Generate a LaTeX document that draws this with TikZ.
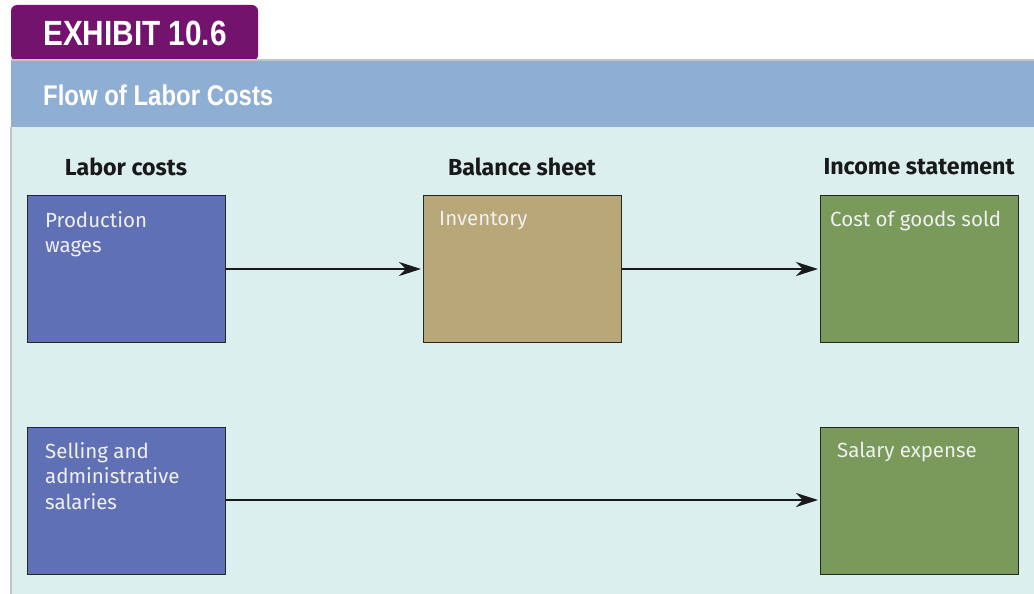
\documentclass[tikz,border=0pt]{standalone}
\usepackage{fontspec}
\setmainfont{Fira Sans}
\newfontfamily\headfont{Fira Sans}[UprightFont=* Bold]
\newfontfamily\condfont{Liberation Sans}[FakeStretch=0.85,BoldFont=* Bold]
\newfontfamily\titlefont{Liberation Sans}[FakeStretch=0.84,BoldFont=* Bold]
\usetikzlibrary{arrows.meta}
\definecolor{tabpurple}{HTML}{73136E}
\definecolor{hdrblue}{HTML}{8FAED4}
\definecolor{bodycyan}{HTML}{DCEFEF}
\definecolor{boxblue}{HTML}{6070B5}
\definecolor{boxtan}{HTML}{B8A779}
\definecolor{boxgreen}{HTML}{7A9A5C}
\definecolor{edgegray}{HTML}{C4C4C4}
\tikzset{
  acct/.style={draw=black!85, line width=1.3pt, minimum width=198pt, minimum height=147pt, inner sep=0pt},
  lbl/.style={anchor=north west, text=white!94!black, align=left, inner sep=0pt, font=\fontsize{20.5}{25.5}\selectfont},
  colhead/.style={font=\headfont\fontsize{23.2}{25}\selectfont, text=black!90, inner sep=0pt},
  flow/.style={line width=2.7pt, draw=black!90, -{Stealth[length=22pt,width=14pt,inset=7pt]}, shorten >=2pt}
}
\begin{document}
\begin{tikzpicture}[x=1pt,y=-1pt]
\useasboundingbox (0,0) rectangle (1034,594);
\fill[white] (0,0) rectangle (1034,594);
% tab
\fill[tabpurple, rounded corners=6pt] (11,61) -- (11,5) -- (258,5) -- (258,61) -- cycle;
\node[anchor=west, text=white, inner sep=0pt, font=\condfont\bfseries\fontsize{35}{40}\selectfont] (exhibit) at (43,33) {EXHIBIT 10.6};
% header band
\fill[hdrblue] (11,60) rectangle (1034,127);
\draw[edgegray, line width=1.5pt] (11,60) -- (1034,60);
\node[anchor=west, text=white, inner sep=0pt, font=\titlefont\bfseries\fontsize{28.5}{32}\selectfont] (title) at (43,95) {Flow of Labor Costs};
% body
\fill[bodycyan] (11,127) rectangle (1034,594);
\draw[edgegray, line width=1.5pt] (11,127) -- (11,594);
% column heads
\node[colhead] (hlabor) at (126,167) {Labor costs};
\node[colhead] (hbal) at (522,167) {Balance sheet};
\node[colhead] (hinc) at (919,167) {Income statement};
% boxes
\node[acct, fill=boxblue, anchor=north west] (prod) at (27,195) {};
\node[acct, fill=boxtan, anchor=north west] (inv) at (423,195) {};
\node[acct, fill=boxgreen, anchor=north west] (cogs) at (820,195) {};
\node[acct, fill=boxblue, anchor=north west] (sell) at (27,427) {};
\node[acct, fill=boxgreen, anchor=north west] (sal) at (820,427) {};
% labels
\node[lbl] (tprod) at (45,211) {Production\\wages};
\node[lbl] (tinv) at (439,211) {Inventory};
\node[lbl] (tcogs) at (830,211) {Cost of goods sold};
\node[lbl] (tsell) at (45,442) {Selling and\\administrative\\salaries};
\node[lbl] (tsal) at (837,442) {Salary expense};
% connectors
\draw[flow] (prod.east |- 0,269) -- (inv.west |- 0,269);
\draw[flow] (inv.east |- 0,269) -- (cogs.west |- 0,269);
\draw[flow] (sell.east |- 0,500) -- (sal.west |- 0,500);
\end{tikzpicture}
\end{document}
